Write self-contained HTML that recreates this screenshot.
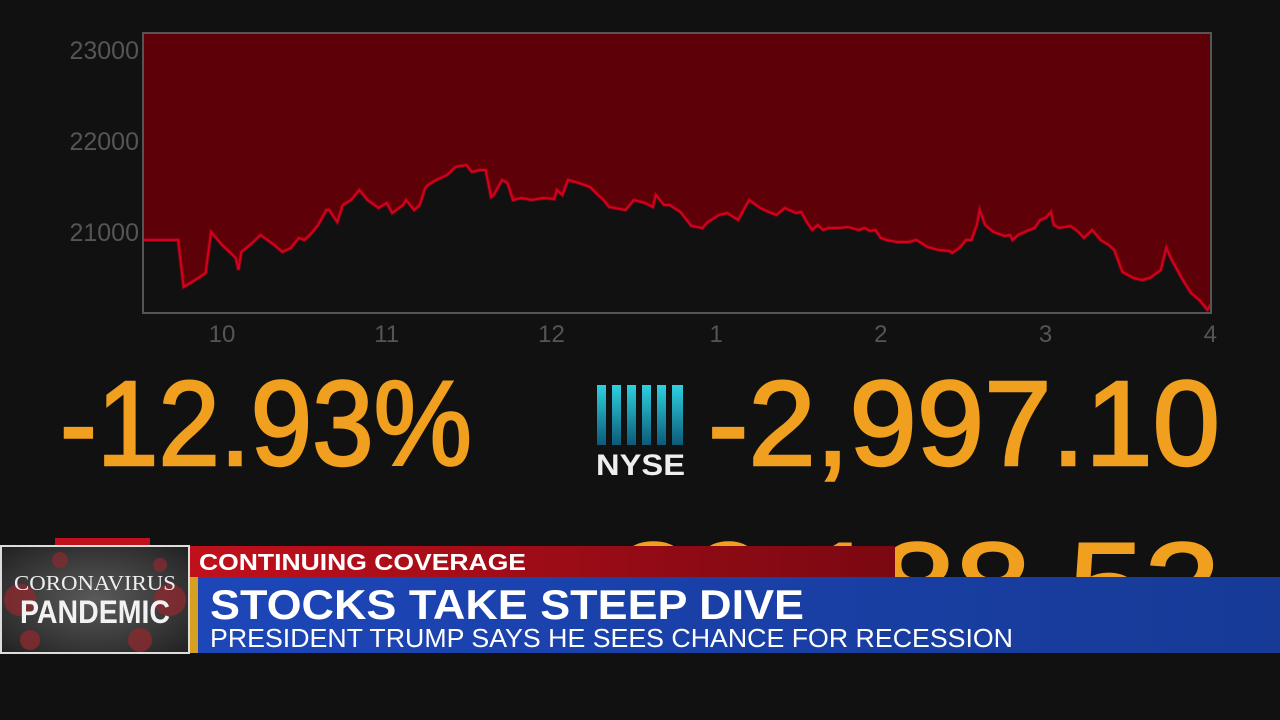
<!DOCTYPE html>
<html><head><meta charset="utf-8"><style>
html,body{margin:0;padding:0;background:#111112;width:1280px;height:720px;overflow:hidden;font-family:"Liberation Sans",sans-serif}
</style></head><body>
<svg id="scene" width="1280" height="720" viewBox="0 0 1280 720">
<defs>
<linearGradient id="bars" x1="0" y1="0" x2="0" y2="1"><stop offset="0" stop-color="#2fd0e0"/><stop offset="1" stop-color="#0c5a78"/></linearGradient>
<linearGradient id="redbar" x1="0" y1="0" x2="1" y2="0"><stop offset="0" stop-color="#c0101c"/><stop offset="1" stop-color="#7a0812"/></linearGradient>
<linearGradient id="bluebar" x1="0" y1="0" x2="1" y2="0"><stop offset="0" stop-color="#1d46b8"/><stop offset="1" stop-color="#163a96"/></linearGradient>
<radialGradient id="thumbbg" cx="0.5" cy="0.5" r="0.7"><stop offset="0" stop-color="#5a5a5a"/><stop offset="1" stop-color="#222"/></radialGradient>
</defs>
<g id="chart"></g>

<text x="60" y="465" font-size="121" fill="#f0a01e" stroke="#f0a01e" stroke-width="2.5" textLength="412" lengthAdjust="spacingAndGlyphs">-12.93%</text>
<g>
<rect x="597" y="385" width="9" height="60" fill="url(#bars)"/>
<rect x="612" y="385" width="9" height="60" fill="url(#bars)"/>
<rect x="627" y="385" width="9" height="60" fill="url(#bars)"/>
<rect x="642" y="385" width="9" height="60" fill="url(#bars)"/>
<rect x="657" y="385" width="9" height="60" fill="url(#bars)"/>
<rect x="672" y="385" width="11" height="60" fill="url(#bars)"/>
<text x="596" y="475" font-size="30" font-weight="bold" fill="#eee" textLength="89" lengthAdjust="spacingAndGlyphs">NYSE</text>
</g>
<text x="708" y="465" font-size="121" fill="#f0a01e" stroke="#f0a01e" stroke-width="2.5" textLength="512" lengthAdjust="spacingAndGlyphs">-2,997.10</text>
<rect x="55" y="538" width="95" height="12" fill="#c0101c"/>
<text x="615" y="627" font-size="121" fill="#f0a01e" stroke="#f0a01e" stroke-width="2.5" textLength="605" lengthAdjust="spacingAndGlyphs">20,188.52</text>

<g>
<rect x="0" y="545" width="190" height="109" fill="#ddd"/>
<rect x="2" y="547" width="186" height="105" fill="url(#thumbbg)"/>
<circle cx="20" cy="600" r="16" fill="#8a2a30" opacity="0.8"/>
<circle cx="170" cy="600" r="16" fill="#8a2a30" opacity="0.8"/>
<circle cx="30" cy="640" r="10" fill="#8a2a30" opacity="0.8"/>
<circle cx="140" cy="640" r="12" fill="#8a2a30" opacity="0.8"/>
<circle cx="60" cy="560" r="8" fill="#8a2a30" opacity="0.7"/>
<circle cx="160" cy="565" r="7" fill="#8a2a30" opacity="0.7"/>
<text x="95" y="590" font-family="Liberation Serif" font-size="21" fill="#eee" text-anchor="middle" textLength="162" lengthAdjust="spacingAndGlyphs">CORONAVIRUS</text>
<text x="95" y="623" font-size="32" font-weight="bold" fill="#f2f2f2" text-anchor="middle" textLength="150" lengthAdjust="spacingAndGlyphs">PANDEMIC</text>
<rect x="190" y="546" width="705" height="31" fill="url(#redbar)"/>
<text x="199" y="570" font-size="23" font-weight="bold" fill="#fff" textLength="327" lengthAdjust="spacingAndGlyphs">CONTINUING COVERAGE</text>
<rect x="190" y="577" width="1090" height="76" fill="url(#bluebar)"/>
<rect x="190" y="577" width="8" height="76" fill="#d8a020"/>
<text x="210" y="619" font-size="42" font-weight="bold" fill="#fff" textLength="594" lengthAdjust="spacingAndGlyphs">STOCKS TAKE STEEP DIVE</text>
<text x="210" y="647" font-size="26" fill="#fff" textLength="803" lengthAdjust="spacingAndGlyphs">PRESIDENT TRUMP SAYS HE SEES CHANCE FOR RECESSION</text>
</g>
</svg>
<script>
// minutes since 9:30 and index values
const minutes = [1,14,16,19,23,24,26,30,35,36,37,41,44,49,52,55,58,60,62,65,68,69,72,74,77,80,83,87,90,92,96,97,100,102,104,105,108,112,115,119,121,124,126,128,129,132,134,136,139,143,147,151,152,154,156,160,164,167,169,171,177,180,184,187,188,191,193,197,201,205,207,211,214,218,222,226,230,232,235,239,241,243,245,247,249,251,255,258,262,264,266,268,270,272,276,280,283,287,291,295,296,299,301,303,305,306,308,311,315,317,318,320,324,326,328,330,332,333,335,339,342,344,347,350,353,355,358,362,365,368,372,374,376,380,383,386,389,390];
const values = [20912,20912,20396,20450,20527,20549,21000,20857,20714,20582,20780,20879,20967,20857,20780,20824,20934,20912,20967,21077,21242,21242,21110,21297,21352,21462,21352,21264,21319,21209,21297,21352,21242,21297,21484,21517,21571,21626,21714,21736,21659,21681,21681,21385,21407,21571,21539,21352,21374,21352,21374,21363,21462,21407,21571,21539,21495,21407,21352,21275,21242,21352,21319,21275,21407,21297,21297,21220,21066,21044,21110,21187,21209,21132,21352,21264,21209,21187,21264,21209,21220,21110,21022,21077,21022,21044,21044,21055,21022,21044,21011,21022,20934,20912,20890,20890,20912,20835,20802,20791,20769,20835,20912,20912,21077,21242,21077,21000,20956,20967,20912,20967,21022,21044,21132,21154,21220,21077,21044,21066,21000,20934,21022,20912,20857,20802,20560,20494,20472,20494,20582,20824,20692,20472,20330,20253,20143,20198];
const yTicks = [23000,22000,21000];
const xTickMinutes = [30,90,150,210,270,330,390];
const xTickLabels = ['10','11','12','1','2','3','4'];

const L=143,R=1211,T=33,B=313;
const xs = m => 139.7 + m*2.745;
const ys = v => 232 - (v-21000)*0.091;
const NS='http://www.w3.org/2000/svg';
const g=document.getElementById('chart');
function mk(tag,attrs){const e=document.createElementNS(NS,tag);for(const k in attrs)e.setAttribute(k,attrs[k]);g.appendChild(e);return e;}

const bg=mk('rect',{x:L,y:T,width:R-L,height:B-T,fill:'#111112'});



const pts=minutes.map((m,i)=>[Math.max(L,Math.min(R,xs(m))),ys(values[i])]);
let d='M'+L+','+T+' L'+L+','+pts[0][1].toFixed(1);
pts.forEach(p=>{d+=' L'+p[0].toFixed(1)+','+p[1].toFixed(1);});
d+=' L'+R+','+pts[pts.length-1][1].toFixed(1)+' L'+R+','+T+' Z';
const area=mk('path',{d:d,fill:'#5e0008'});



let ld='M'+L+','+pts[0][1].toFixed(1);
pts.forEach(p=>{ld+=' L'+p[0].toFixed(1)+','+p[1].toFixed(1);});
const glow=mk('path',{d:ld,fill:'none',stroke:'#c00018',"stroke-width":4,opacity:0.4});


const line=mk('path',{d:ld,fill:'none',stroke:'#d8001c',"stroke-width":2});



const frame=mk('rect',{x:L,y:T,width:R-L,height:B-T,fill:'none',stroke:'#555',"stroke-width":2});



yTicks.forEach(v=>{
  const t=mk('text',{x:139,y:ys(v)+9,"font-size":25,fill:'#555',"text-anchor":'end'});
  t.textContent=v;
  
  
});
xTickMinutes.forEach((m,i)=>{
  const t=mk('text',{x:xs(m),y:342,"font-size":24,fill:'#555',"text-anchor":'middle'});
  t.textContent=xTickLabels[i];
  
  
});
</script>
</body></html>
